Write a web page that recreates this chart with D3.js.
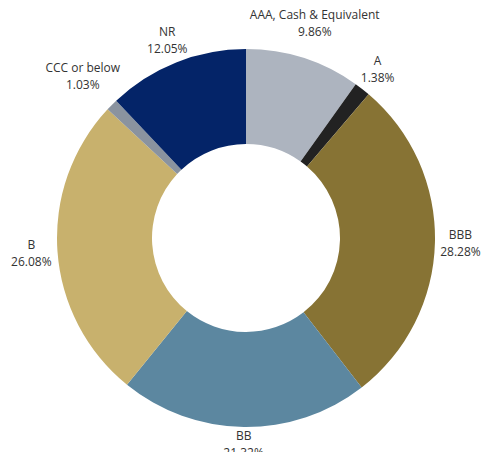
<!DOCTYPE html>
<html><head><meta charset="utf-8">
<script src="https://cdn.jsdelivr.net/npm/d3@7/dist/d3.min.js"></script>
<style>html,body{margin:0;padding:0;background:#fff;}svg{display:block;}</style>
</head><body>
<svg id="chart" width="481" height="452"></svg>
<script>
const categories = ["AAA, Cash & Equivalent", "A", "BBB", "BB", "B", "CCC or below", "NR"];
const values = [9.86, 1.38, 28.28, 21.32, 26.08, 1.03, 12.05];
const labels = ["9.86%", "1.38%", "28.28%", "21.32%", "26.08%", "1.03%", "12.05%"];
const colors = ["#adb4bf", "#222222", "#877334", "#5c87a0", "#c8b16d", "#8a939f", "#042468"];

const W = 481, H = 452, cx = 246, cy = 238, R = 189, r0 = 94;
const svg = d3.select("#chart");
const g = svg.append("g").attr("transform", `translate(${cx},${cy})`);
const data = categories.map((c, i) => ({cat: c, v: values[i], lab: labels[i], col: colors[i]}));
const pie = d3.pie().value(d => d.v).sort(null);
const arc = d3.arc().innerRadius(r0).outerRadius(R);
const arcs = pie(data);
g.selectAll("path.slice").data(arcs).join("path")
  .attr("class", "slice").attr("d", arc).attr("fill", d => d.data.col);

const fontFam = "'Open Sans', 'Noto Sans', sans-serif";
arcs.forEach(a => {
  const ang = (a.startAngle + a.endAngle) / 2;
  const s = Math.sin(ang), c = -Math.cos(ang);
  const t = g.append("text").attr("text-anchor", "middle")
    .style("font-family", fontFam).style("font-size", "12px").attr("fill", "#333");
  t.append("tspan").attr("x", 0).attr("dy", 0).text(a.data.cat);
  t.append("tspan").attr("x", 0).attr("dy", 17).text(a.data.lab);
  const bb = t.node().getBBox();
  const hw = bb.width / 2, hh = bb.height / 2;
  const d = R + 5 + hw * Math.abs(s) + 0.72 * hh * Math.abs(c);
  const px = d * s, py = d * c;
  const ox = px - (bb.x + hw), oy = py - (bb.y + hh);
  t.attr("transform", `translate(${ox},${oy})`);
});
</script>
</body></html>
